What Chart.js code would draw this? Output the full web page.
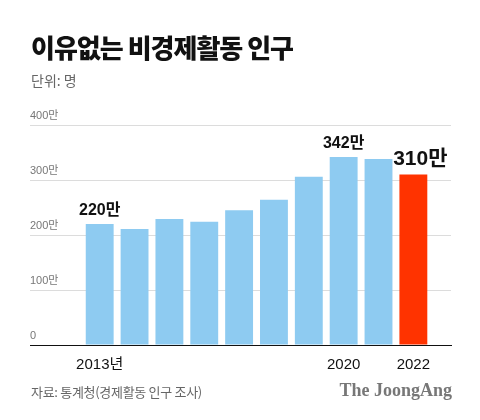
<!DOCTYPE html>
<html>
<head>
<meta charset="utf-8">
<script src="https://cdn.jsdelivr.net/npm/chart.js@4"></script>
<style>
  html, body { margin: 0; padding: 0; background: #fff; }
  #wrap { position: relative; width: 480px; height: 420px; overflow: hidden; font-family: "Noto Sans CJK KR", "Noto Sans", sans-serif; }
  #title { position: absolute; left: 31px; top: 28px; font-size: 26px; font-weight: 900; letter-spacing: -1px; color: #111; }
  #unit { position: absolute; left: 31px; top: 70px; font-size: 14px; color: #666; }
  #source { position: absolute; left: 31px; top: 382px; font-size: 13px; color: #666; letter-spacing: -0.3px; }
  #brand { position: absolute; right: 28px; top: 380px; font-family: "Liberation Serif", "DejaVu Serif", serif; font-weight: bold; font-size: 18px; color: #777; }
  #chartBox { position: absolute; left: 0; top: 0; width: 480px; height: 420px; }
</style>
</head>
<body>
<div id="wrap">
  <div id="chartBox"><canvas id="chart" width="480" height="420"></canvas></div>
  <div id="title">이유없는 비경제활동 인구</div>
  <div id="unit">단위: 명</div>
  <div id="source">자료: 통계청(경제활동 인구 조사)</div>
  <div id="brand">The JoongAng</div>
</div>
<script>
// 단위: 만 명
const years = [2013, 2014, 2015, 2016, 2017, 2018, 2019, 2020, 2021, 2022];
const values = [220, 211, 229, 224, 245, 264, 306, 342, 338, 310];
const barColors = ['#8ecbf1', '#8ecbf1', '#8ecbf1', '#8ecbf1', '#8ecbf1', '#8ecbf1', '#8ecbf1', '#8ecbf1', '#8ecbf1', '#ff3300'];
const tickYears = [2013, 2020, 2022];
const tickYearLabels = ['2013년', '2020', '2022'];
const yTicks = [0, 100, 200, 300, 400];
const valueLabels = ['220만', '', '', '', '', '', '', '342만', '', '310만'];

const fontFamily = '"Liberation Sans", "Noto Sans CJK KR", sans-serif';

const valueLabelPlugin = {
    id: 'valueLabels',
    afterDatasetsDraw(chart) {
        const ctx = chart.ctx;
        const meta = chart.getDatasetMeta(0);
        ctx.save();
        ctx.fillStyle = '#111';
        ctx.textAlign = 'center';
        ctx.textBaseline = 'bottom';
        meta.data.forEach((bar, i) => {
            if (!valueLabels[i]) return;
            const last = i === values.length - 1;
            ctx.font = (last ? 'bold 21px ' : 'bold 16px ') + fontFamily;
            ctx.fillText(valueLabels[i], bar.x + (last ? 7 : 0), bar.y - 5);
        });
        ctx.restore();
    }
};

window.addEventListener('DOMContentLoaded', () => {
    const ctx = document.getElementById('chart');
    new Chart(ctx, {
        type: 'bar',
        data: {
            datasets: [{
                data: years.map((y, i) => ({ x: y, y: values[i] })),
                backgroundColor: barColors,
                barPercentage: 0.8,
                categoryPercentage: 1.0
            }]
        },
        options: {
            responsive: false,
            animation: false,
            devicePixelRatio: 1,
            layout: { padding: { left: 30, right: 29, top: 125, bottom: 43 } },
            plugins: { legend: { display: false }, tooltip: { enabled: false } },
            scales: {
                x: {
                    type: 'linear',
                    offset: false,
                    min: 2011,
                    max: 2023.08,
                    afterBuildTicks: scale => { scale.ticks = tickYears.map(v => ({ value: v })); },
                    ticks: {
                        autoSkip: false,
                        maxRotation: 0,
                        padding: 3,
                        color: '#111',
                        font: { family: fontFamily, size: 15 },
                        callback: v => tickYearLabels[tickYears.indexOf(v)]
                    },
                    grid: { display: false },
                    border: { display: true, color: '#111', width: 1 }
                },
                y: {
                    min: 0,
                    max: 400,
                    afterBuildTicks: scale => { scale.ticks = yTicks.map(v => ({ value: v })); },
                    afterFit: scale => { scale.width = 0; },
                    ticks: {
                        mirror: true,
                        padding: 0,
                        labelOffset: -9,
                        color: '#777',
                        font: { family: fontFamily, size: 11 },
                        callback: v => v === 0 ? '0' : v + '만'
                    },
                    grid: { color: '#dcdcdc', drawTicks: false },
                    border: { display: false }
                }
            }
        },
        plugins: [valueLabelPlugin]
    });
});
</script>
</body>
</html>
